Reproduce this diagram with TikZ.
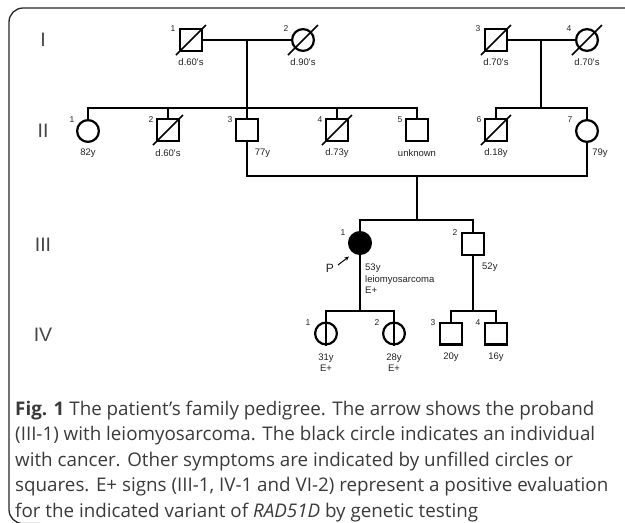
\documentclass[tikz,border=0pt]{standalone}
\usepackage{fontspec}
\setmainfont{Open Sans}
\newfontfamily\arialf{Liberation Sans}
\usetikzlibrary{arrows.meta}
\definecolor{captxt}{HTML}{3A3A3A}
\definecolor{rowtxt}{HTML}{444444}
\definecolor{pedtxt}{HTML}{222222}
\begin{document}
\begin{tikzpicture}[x=1pt,y=-1pt,
  conn/.style={line width=2.2pt, line join=miter},
  sq/.style={draw, rectangle, line width=2.2pt, minimum size=21.8pt, inner sep=0pt},
  ci/.style={draw, circle, line width=2.2pt, minimum size=21.8pt, inner sep=0pt},
  slash/.style={line width=1.5pt},
  lbl/.style={font=\arialf\fontsize{9.5}{11.5}\selectfont, text=pedtxt, inner sep=0pt},
  lbll/.style={lbl, anchor=west, align=left},
  num/.style={font=\arialf\fontsize{8.5}{10}\selectfont, text=pedtxt, inner sep=0pt},
  rowlbl/.style={font=\arialf\fontsize{19.5}{22}\selectfont, text=rowtxt, inner sep=0pt},
  capline/.style={font=\fontsize{18.8}{22}\selectfont, text=captxt, anchor=base west, inner sep=0pt},
  frame/.style={line width=1.3pt, draw=black!85, rounded corners=14pt}
]
\useasboundingbox (0,0) rectangle (625,523);
\draw[frame] (640,8) -- (9,8) -- (9,523.6) -- (40,523.6);

% row labels
\node[rowlbl] (rI) at (43,40) {I};
\node[rowlbl] (rII) at (43,131) {II};
\node[rowlbl] (rIII) at (43,245) {III};
\node[rowlbl] (rIV) at (43,335) {IV};

% generation I
\node[sq] (I1) at (191,40) {};
\node[ci] (I2) at (303,40) {};
\node[sq] (I3) at (496,40) {};
\node[ci] (I4) at (587,40) {};
\foreach \n in {I1,I2,I3,I4} \draw[slash] (\n.center) ++(-15,15) -- ++(30,-30);
\node[num] (nI1) at (173,29) {1};
\node[num] (nI2) at (286,29) {2};
\node[num] (nI3) at (478,29) {3};
\node[num] (nI4) at (569,29) {4};
\node[lbl] (aI1) at (191,62) {d.60's};
\node[lbl] (aI2) at (303,62) {d.90's};
\node[lbl] (aI3) at (496,62) {d.70's};
\node[lbl] (aI4) at (587,62) {d.70's};

% generation II
\node[ci] (II1) at (88,131) {};
\node[sq] (II2) at (168,130) {};
\node[sq] (II3) at (247,130) {};
\node[sq] (II4) at (337,130) {};
\node[sq] (II5) at (417,130) {};
\node[sq] (II6) at (496,130) {};
\node[ci] (II7) at (587,131) {};
\foreach \n in {II2,II4,II6} \draw[slash] (\n.center) ++(-15,15) -- ++(30,-30);
\node[num] (nII1) at (72,120) {1};
\node[num] (nII2) at (151,120) {2};
\node[num] (nII3) at (230,120) {3};
\node[num] (nII4) at (320,120) {4};
\node[num] (nII5) at (400,120) {5};
\node[num] (nII6) at (479,120) {6};
\node[num] (nII7) at (570,120) {7};
\node[lbl] (aII1) at (88,153) {82y};
\node[lbl] (aII2) at (168,153) {d.60's};
\node[lbl] (aII3) at (262.5,153) {77y};
\node[lbl] (aII4) at (337,153) {d.73y};
\node[lbl] (aII5) at (417,153) {unknown};
\node[lbl] (aII6) at (496,153) {d.18y};
\node[lbl] (aII7) at (600,153) {79y};

% generation III
\node[ci, fill=black] (III1) at (360,243) {};
\node[sq] (III2) at (473,244) {};
\node[num] (nIII1) at (343,233) {1};
\node[num] (nIII2) at (455,233) {2};
\node[lbll] (aIII1) at (365,279) {53y\\leiomyosarcoma\\E+};
\node[lbll] (aIII2) at (482,267) {52y};
\node[font=\arialf\fontsize{12}{14}\selectfont, text=pedtxt, inner sep=0pt] (P) at (330,268) {P};
\coordinate (pt) at (338,265);
\coordinate (ph) at (349,256.5);
\draw[line width=1pt, -{Stealth[length=4.5pt,width=4pt]}] (pt) -- (ph);

% generation IV
\node[ci] (IV1) at (326,333.5) {};
\node[ci] (IV2) at (394,333.5) {};
\node[sq] (IV3) at (451,333.5) {};
\node[sq] (IV4) at (496,333.5) {};
\node[num] (nIV1) at (308,323) {1};
\node[num] (nIV2) at (377,323) {2};
\node[num] (nIV3) at (433,323) {3};
\node[num] (nIV4) at (478,323) {4};
\node[lbl, align=center] (aIV1) at (326,362.5) {31y\\E+};
\node[lbl, align=center] (aIV2) at (394,362.5) {28y\\E+};
\node[lbl] (aIV3) at (451,357) {20y};
\node[lbl] (aIV4) at (496,357) {16y};

% connectors
\coordinate (m1) at (247,40);
\coordinate (s1) at (247,108);
\draw[conn] (I1.east) -- (I2.west);
\draw[conn] (m1) -- (II3.north);
\draw[conn] (II1.north) -- (II1.north |- s1) -- (II5.north |- s1) -- (II5.north);
\draw[conn] (II2.north) -- (II2.north |- s1);
\draw[conn] (II4.north) -- (II4.north |- s1);

\coordinate (m2) at (541,40);
\coordinate (s2) at (541,108);
\draw[conn] (I3.east) -- (I4.west);
\draw[conn] (m2) -- (s2);
\draw[conn] (II6.north) -- (II6.north |- s2) -- (II7.north |- s2) -- (II7.north);

\coordinate (m3) at (417,176);
\coordinate (s3) at (417,220);
\draw[conn] (II3.south) -- (II3.south |- m3) -- (II7.south |- m3) -- (II7.south);
\draw[conn] (m3) -- (s3);
\draw[conn] (III1.north) -- (III1.north |- s3) -- (III2.north |- s3) -- (III2.north);

\coordinate (s4) at (360,311);
\coordinate (s5) at (473,311);
\draw[conn] (III1.south) -- (s4);
\draw[conn] (IV1.south) -- (IV1.south |- s4) -- (IV2.south |- s4) -- (IV2.south);
\draw[conn] (III2.south) -- (s5);
\draw[conn] (IV3.north) -- (IV3.north |- s5) -- (IV4.north |- s5) -- (IV4.north);

% caption
\node[capline] (c1) at (15,415) {\textbf{Fig. 1} The patient’s family pedigree. The arrow shows the proband};
\node[capline] (c2) at (15,440.5) {(III-1) with leiomyosarcoma. The black circle indicates an individual};
\node[capline] (c3) at (15,466) {with cancer. Other symptoms are indicated by unfilled circles or};
\node[capline] (c4) at (15,491.5) {squares. E+ signs (III-1, IV-1 and VI-2) represent a positive evaluation};
\node[capline] (c5) at (15,517) {for the indicated variant of \textit{RAD51D} by genetic testing};
\end{tikzpicture}
\end{document}
